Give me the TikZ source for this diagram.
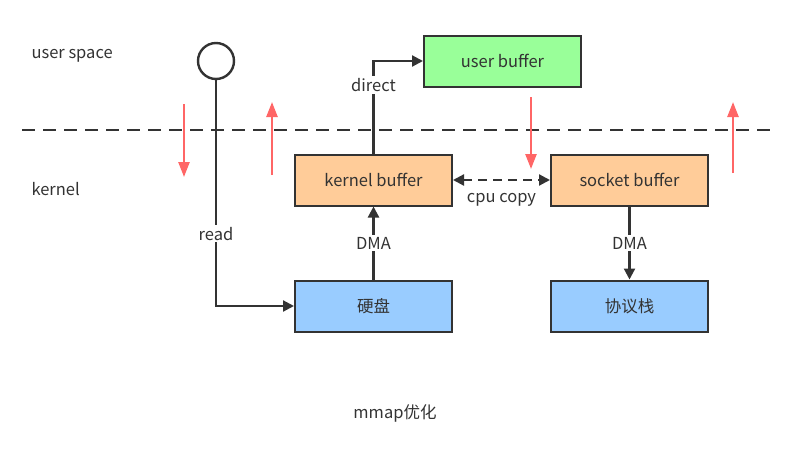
\documentclass[tikz,border=0pt]{standalone}
\usepackage{fontspec}
\setmainfont{Noto Sans CJK SC}
\usetikzlibrary{arrows.meta,shapes.geometric}
\definecolor{linegray}{HTML}{333333}
\definecolor{redarrow}{HTML}{FF6666}
\definecolor{userfill}{HTML}{99FF99}
\definecolor{kernfill}{HTML}{FFCC99}
\definecolor{devfill}{HTML}{99CCFF}
\begin{document}
\begin{tikzpicture}[x=1pt,y=-1pt,font=\fontsize{16.5}{19}\selectfont,text=linegray]
			\tikzset{buf/.style={draw=linegray,line width=2pt,minimum width=157pt,minimum height=51pt,inner sep=0pt}}
			\tikzset{flow/.style={draw=linegray,line width=2.2pt,-{Triangle[length=11pt,width=11pt]}}}
			\tikzset{tag/.style={fill=white,inner sep=2pt}}
			\tikzset{mode/.style={draw=redarrow,line width=2.4pt,-{Triangle[length=15pt,width=11pt]}}}
			\useasboundingbox (0,0) rectangle (790,450);
			\node[anchor=west] (us) at (28,56) {user space};
			\node[anchor=west] (kn) at (28,189) {kernel};
			\draw[linegray,line width=2.4pt,dash pattern=on 13pt off 8pt] (22,130) -- (770,130);
			\node[circle,draw=linegray,line width=2.4pt,minimum size=36pt,inner sep=0pt] (proc) at (216,61) {};
			\node[buf,fill=userfill] (ubuf) at (502.5,61) {user buffer};
			\node[buf,fill=kernfill] (kbuf) at (373.5,180) {kernel buffer};
			\node[buf,fill=kernfill] (sbuf) at (629.5,180) {socket buffer};
			\node[buf,fill=devfill] (disk) at (373.5,306) {硬盘};
			\node[buf,fill=devfill] (stack) at (629.5,306) {协议栈};
			\draw[flow] (proc.south) |- (disk.west) node[tag,pos=0.34] {read};
			\draw[flow] (kbuf.north) |- (ubuf.west) node[tag,pos=0.37] {direct};
			\draw[flow] (disk.north) -- (kbuf.south) node[tag,midway] {DMA};
			\draw[flow] (sbuf.south) -- (stack.north) node[tag,midway] {DMA};
			\draw[flow,{Triangle[length=11pt,width=11pt]}-{Triangle[length=11pt,width=11pt]},dash pattern=on 9pt off 6pt] (kbuf.east) -- (sbuf.west) node[midway,below=9pt] {cpu copy};
			\coordinate (r1a) at (184,104); \coordinate (r1b) at (184,177);
			\coordinate (r2a) at (272,175); \coordinate (r2b) at (272,102);
			\coordinate (r3a) at (531,97); \coordinate (r3b) at (531,169);
			\coordinate (r4a) at (733,173); \coordinate (r4b) at (733,102);
			\foreach \a/\b in {r1a/r1b,r2a/r2b,r3a/r3b,r4a/r4b}
				\draw[mode] (\a) -- (\b);
			\node (cap) at (395,413) {mmap优化};
		\end{tikzpicture}
\end{document}
